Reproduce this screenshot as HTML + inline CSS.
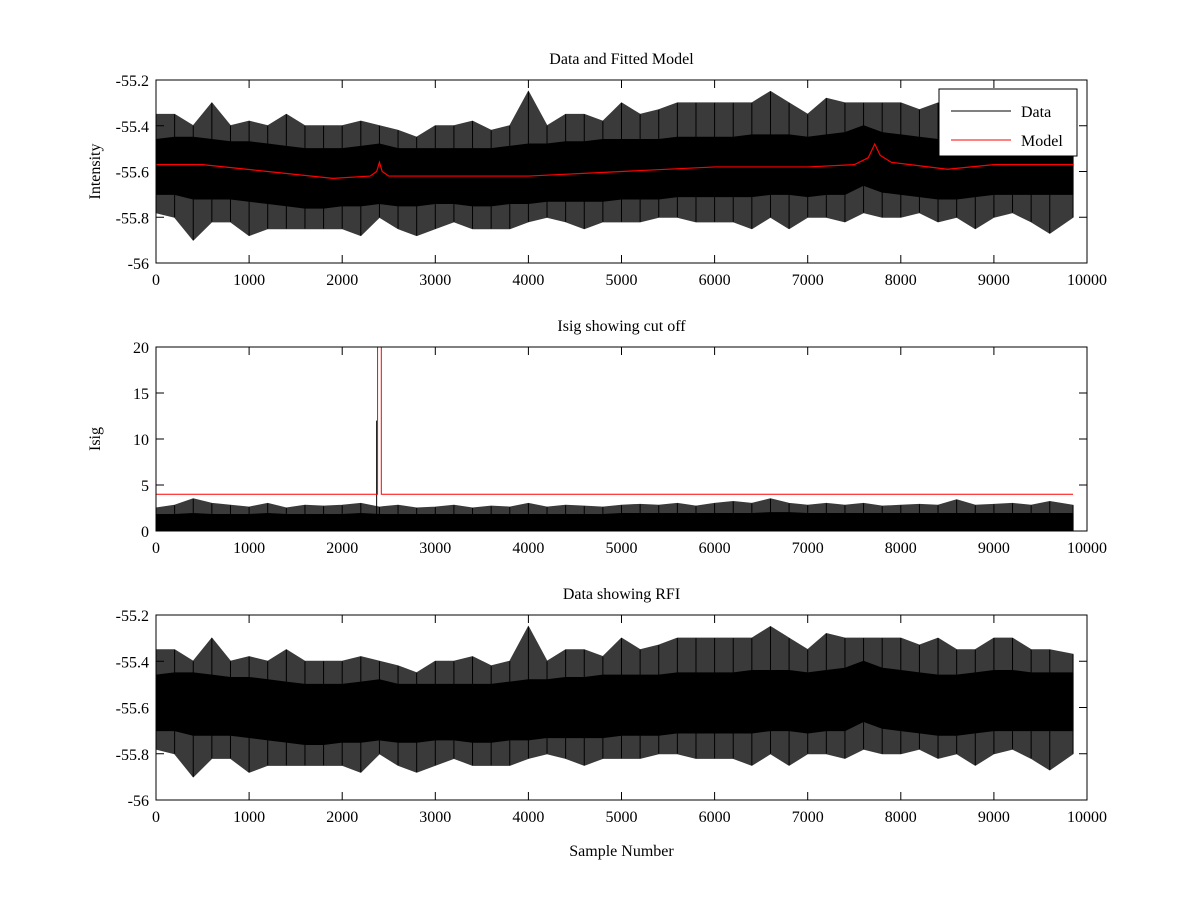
<!DOCTYPE html>
<html><head><meta charset="utf-8"><style>
body{margin:0;background:#fff;}
svg text{font-family:"Liberation Serif",serif;font-size:16px;fill:#000;}
</style></head><body>
<svg id="c" width="1200" height="900" xmlns="http://www.w3.org/2000/svg">
<rect width="1200" height="900" fill="#fff"/>
</svg>
<script>
// per-200-sample bin envelopes
const binStart=[0,200,400,600,800,1000,1200,1400,1600,1800,2000,2200,2400,2600,2800,3000,3200,3400,3600,3800,4000,4200,4400,4600,4800,5000,5200,5400,5600,5800,6000,6200,6400,6600,6800,7000,7200,7400,7600,7800,8000,8200,8400,8600,8800,9000,9200,9400,9600,9850];
const dataMax=[-55.35,-55.35,-55.4,-55.3,-55.4,-55.38,-55.4,-55.35,-55.4,-55.4,-55.4,-55.38,-55.4,-55.42,-55.45,-55.4,-55.4,-55.38,-55.42,-55.4,-55.25,-55.4,-55.35,-55.35,-55.38,-55.3,-55.35,-55.33,-55.3,-55.3,-55.3,-55.3,-55.3,-55.25,-55.3,-55.35,-55.28,-55.3,-55.3,-55.3,-55.3,-55.33,-55.3,-55.35,-55.35,-55.3,-55.3,-55.35,-55.35,-55.37];
const dataMin=[-55.78,-55.8,-55.9,-55.82,-55.82,-55.88,-55.85,-55.85,-55.85,-55.85,-55.85,-55.88,-55.8,-55.85,-55.88,-55.85,-55.82,-55.85,-55.85,-55.85,-55.82,-55.8,-55.82,-55.85,-55.82,-55.82,-55.82,-55.8,-55.8,-55.82,-55.82,-55.82,-55.85,-55.8,-55.85,-55.8,-55.8,-55.82,-55.78,-55.8,-55.8,-55.78,-55.82,-55.8,-55.85,-55.8,-55.78,-55.82,-55.87,-55.8];
const coreHi=[-55.46,-55.45,-55.45,-55.46,-55.47,-55.47,-55.48,-55.49,-55.5,-55.5,-55.5,-55.49,-55.48,-55.5,-55.5,-55.5,-55.5,-55.5,-55.5,-55.49,-55.48,-55.48,-55.47,-55.47,-55.46,-55.46,-55.46,-55.46,-55.45,-55.45,-55.45,-55.45,-55.44,-55.44,-55.44,-55.45,-55.44,-55.43,-55.4,-55.43,-55.44,-55.45,-55.46,-55.46,-55.45,-55.44,-55.44,-55.45,-55.45,-55.45];
const coreLo=[-55.7,-55.7,-55.72,-55.72,-55.72,-55.73,-55.74,-55.75,-55.76,-55.76,-55.75,-55.75,-55.74,-55.75,-55.75,-55.74,-55.74,-55.75,-55.75,-55.74,-55.74,-55.73,-55.73,-55.73,-55.73,-55.72,-55.72,-55.72,-55.71,-55.71,-55.71,-55.71,-55.71,-55.7,-55.7,-55.71,-55.7,-55.7,-55.66,-55.69,-55.7,-55.71,-55.72,-55.72,-55.71,-55.7,-55.7,-55.7,-55.7,-55.7];
const modelX=[0,500,1200,1900,2300,2370,2400,2430,2500,3000,4000,5000,6000,7000,7500,7650,7720,7780,7900,8100,8500,9000,9850];
const modelY=[-55.57,-55.57,-55.6,-55.63,-55.62,-55.6,-55.56,-55.6,-55.62,-55.62,-55.62,-55.6,-55.58,-55.58,-55.57,-55.54,-55.48,-55.53,-55.56,-55.57,-55.59,-55.57,-55.57];
const isigMax=[2.5,2.8,3.5,3,2.8,2.6,3,2.5,2.8,2.7,2.8,3,2.6,2.8,2.5,2.6,2.8,2.5,2.7,2.6,3,2.6,2.8,2.7,2.6,2.8,2.9,2.8,3,2.7,3,3.2,3,3.5,3,2.8,3,2.8,3,2.7,2.8,2.9,2.8,3.4,2.8,2.9,3,2.8,3.2,2.8];
const isigCore=[1.8,1.8,1.9,1.8,1.8,1.8,1.9,1.8,1.8,1.8,1.8,1.9,1.8,1.8,1.8,1.8,1.8,1.8,1.8,1.8,1.8,1.8,1.8,1.8,1.8,1.9,1.9,1.9,1.9,1.9,1.9,1.9,1.9,2,2,1.9,1.9,1.9,1.9,1.9,1.9,1.9,1.9,1.9,1.9,1.9,1.9,1.9,1.9,1.9];
const cutX=[0,2380,2380,2420,2420,9850];
const cutY=[4,4,20,20,4,4];
const xTicks=[0,1000,2000,3000,4000,5000,6000,7000,8000,9000,10000];
const yTicksI=[-56,-55.8,-55.6,-55.4,-55.2];
const yTicksS=[0,5,10,15,20];

const svg=document.getElementById('c');
const NS='http://www.w3.org/2000/svg';
function el(t,a,txt){const e=document.createElementNS(NS,t);for(const k in a)e.setAttribute(k,a[k]);if(txt!==undefined)e.textContent=txt;svg.appendChild(e);return e;}
const X0=156,X1=1087;
const sx=v=>X0+(v/10000)*(X1-X0);
function panel(top,bot,ymin,ymax,yt,title,ylabel,name){
  const sy=v=>bot-(v-ymin)/(ymax-ymin)*(bot-top);
  return {sy,top,bot,yt,title,ylabel,name};
}
function frame(p){
  const r=el('rect',{x:X0,y:p.top,width:X1-X0,height:p.bot-p.top,fill:'none',stroke:'#000','stroke-width':1});
  
  
  xTicks.forEach(v=>{
    const x=sx(v);
    el('line',{x1:x,x2:x,y1:p.bot,y2:p.bot-8,stroke:'#000'});
    el('line',{x1:x,x2:x,y1:p.top,y2:p.top+8,stroke:'#000'});
    const t=el('text',{x:x,y:p.bot+22,'text-anchor':'middle'},String(v));
    
    
  });
  p.yt.forEach(v=>{
    const y=p.sy(v);
    el('line',{x1:X0,x2:X0+8,y1:y,y2:y,stroke:'#000'});
    el('line',{x1:X1,x2:X1-8,y1:y,y2:y,stroke:'#000'});
    const t=el('text',{x:X0-7,y:y+6,'text-anchor':'end'},String(v));
    
    
  });
  const tt=el('text',{x:(X0+X1)/2,y:p.top-16,'text-anchor':'middle'},p.title);
  
  
  const yl=el('text',{x:0,y:0,'text-anchor':'middle',transform:`translate(${X0-56},${(p.top+p.bot)/2}) rotate(-90)`},p.ylabel);
  
  
}
function band(p,hi,lo,fill,name){
  let pts=[];
  binStart.forEach((b,i)=>pts.push(sx(b)+','+p.sy(hi[i])));
  for(let i=binStart.length-1;i>=0;i--)pts.push(sx(binStart[i])+','+p.sy(lo[i]));
  const e=el('polygon',{points:pts.join(' '),fill:fill,stroke:fill,'stroke-width':1});
  
  
}
function spikes(p,hi,lo,name){
  binStart.forEach((b,i)=>{
    const e=el('line',{x1:sx(b),x2:sx(b),y1:p.sy(hi[i]),y2:p.sy(lo[i]),stroke:'#000','stroke-width':1});
    
    
  });
}
const P1=panel(80,263,-56,-55.2,yTicksI,'Data and Fitted Model','Intensity','top-panel');
const P2=panel(347,531,0,20,yTicksS,'Isig showing cut off','Isig','middle-panel');
const P3=panel(615,800,-56,-55.2,yTicksI,'Data showing RFI','','bottom-panel');

[P1,P3].forEach((p,k)=>{
  band(p,dataMax,dataMin,'#3a3a3a',k?'rfi-data-envelope':'data-envelope');
  band(p,coreHi,coreLo,'#000',k?'rfi-data-core':'data-core');
  spikes(p,dataMax,dataMin,'data-spike');
});
const mp=modelX.map((x,i)=>sx(x)+','+P1.sy(modelY[i])).join(' ');
const ml=el('polyline',{points:mp,fill:'none',stroke:'#f00','stroke-width':1.2});


const z=binStart.map(()=>0);
band(P2,isigMax,z,'#3a3a3a','isig-envelope');
band(P2,isigCore,z,'#000','isig-core');
spikes(P2,isigMax,z,'isig-spike');
const sp=el('line',{x1:sx(2370),x2:sx(2370),y1:P2.sy(12),y2:P2.sy(0),stroke:'#000'});


const cp=cutX.map((x,i)=>sx(x)+','+P2.sy(cutY[i])).join(' ');
const cl=el('polyline',{points:cp,fill:'none',stroke:'#f00','stroke-width':1});



[P1,P2,P3].forEach(frame);
const xl=el('text',{x:(X0+X1)/2,y:856,'text-anchor':'middle'},'Sample Number');



const lg=el('rect',{x:939,y:89,width:138,height:67,fill:'#fff',stroke:'#000'});


el('line',{x1:951,x2:1011,y1:111,y2:111,stroke:'#000'});
const l1=el('text',{x:1021,y:117},'Data');


el('line',{x1:951,x2:1011,y1:140,y2:140,stroke:'#f00'});
const l2=el('text',{x:1021,y:146},'Model');


</script>
</body></html>
